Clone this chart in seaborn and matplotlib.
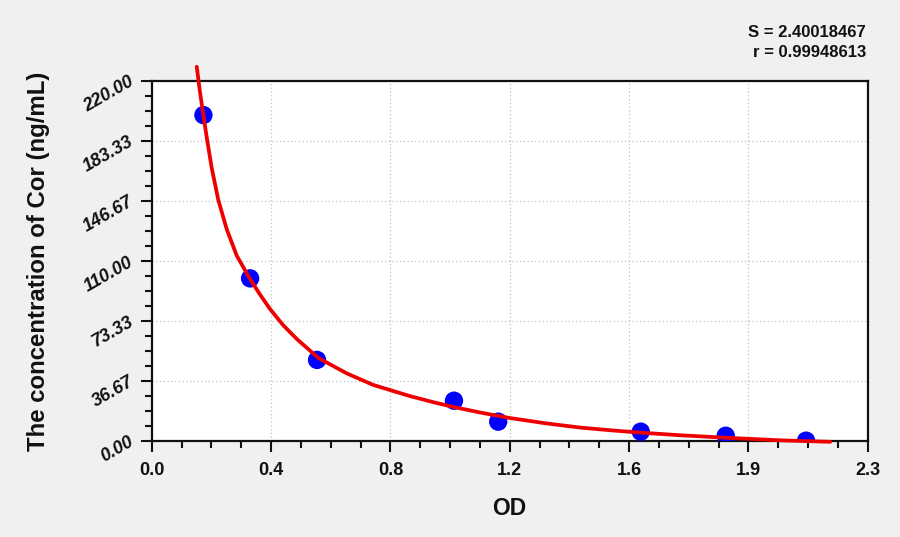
import numpy as np
import pandas as pd
import seaborn as sns
import matplotlib.pyplot as plt
from matplotlib.ticker import AutoMinorLocator

# standard points
od = [0.166, 0.316, 0.531, 0.971, 1.113, 1.571, 1.844, 2.102]
conc = [199.0, 99.3, 49.5, 24.6, 11.8, 5.7, 3.2, 0.2]

# fitted curve
curve_od = [0.1446, 0.1552, 0.1658, 0.1767, 0.1927, 0.2139, 0.2409, 0.2730, 0.3158, 0.3479,
            0.3800, 0.4218, 0.4658, 0.5352, 0.6264, 0.7119, 0.8297, 0.9046, 0.9688, 1.0546,
            1.1510, 1.2689, 1.3759, 1.4828, 1.5695, 1.6980, 1.8426, 2.0193, 2.1799]
curve_conc = [228.5, 212.8, 199.0, 185.3, 166.7, 147.1, 129.3, 113.2, 98.9, 89.4,
              80.6, 70.8, 62.3, 50.7, 41.3, 34.2, 27.4, 23.7, 20.8, 17.4,
              14.0, 10.7, 8.2, 6.4, 5.1, 3.5, 2.0, 0.4, -0.5]

x_ticklabels = ['0.0', '0.4', '0.8', '1.2', '1.6', '1.9', '2.3']
y_ticklabels = ['0.00', '36.67', '73.33', '110.00', '146.67', '183.33', '220.00']
stats_text = 'S = 2.40018467\nr = 0.99948613'

pts = pd.DataFrame({'OD': od, 'conc': conc})
fit = pd.DataFrame({'OD': curve_od, 'conc': curve_conc})

sns.set_style('white')
plt.rcParams['font.family'] = ['Liberation Sans', 'DejaVu Sans']
plt.rcParams['font.weight'] = 'bold'
plt.rcParams['text.color'] = '#111111'
plt.rcParams['axes.labelcolor'] = '#111111'
plt.rcParams['xtick.color'] = '#111111'
plt.rcParams['ytick.color'] = '#111111'

fig = plt.figure(figsize=(9, 5.37), dpi=100, facecolor='#f0f0f0')
ax = fig.add_axes([0.1686, 0.1788, 0.7955, 0.6709])
ax.set_facecolor('white')

sns.scatterplot(x='OD', y='conc', data=pts, color='#0000ff', s=175,
                edgecolor='none', zorder=3, ax=ax)
sns.lineplot(x='OD', y='conc', data=fit, color='#ee0000', linewidth=2.7,
             sort=False, zorder=4, ax=ax)
ax.lines[-1].set_clip_on(False)
ax.lines[-1].set_solid_capstyle('round')
ax.lines[-1].set_solid_joinstyle('round')

ax.set_xlim(0, 2.3)
ax.set_ylim(0, 220)
ax.set_xticks(np.linspace(0, 2.3, 7))
ax.set_xticklabels(x_ticklabels, fontsize=13, fontweight='bold')
ax.set_yticks(np.linspace(0, 220, 7))
ax.set_yticklabels(y_ticklabels, fontsize=13, fontweight='bold', style='italic',
                   rotation=30, ha='right', va='center', rotation_mode='anchor')
ax.xaxis.set_minor_locator(AutoMinorLocator(4))
ax.yaxis.set_minor_locator(AutoMinorLocator(4))
ax.tick_params(which='major', direction='out', length=8, width=1.5, color='#111111',
               bottom=True, left=True, pad=6)
ax.tick_params(which='minor', direction='out', length=5, width=1.5, color='#111111',
               bottom=True, left=True)
ax.tick_params(axis='x', pad=7)

ax.grid(True, which='major', linestyle=(0, (1, 2)), color='#c0c0c0', linewidth=0.9)
for s in ax.spines.values():
    s.set_visible(True)
    s.set_color('#111111')
    s.set_linewidth(1.6)

ax.set_xlabel('OD', fontsize=16.5, fontweight='bold', labelpad=13)
ax.set_ylabel('The concentration of Cor (ng/mL)', fontsize=17.3, fontweight='bold', labelpad=22)

fig.text(0.962, 0.921, stats_text, ha='right', va='center', fontsize=12,
         fontweight='bold', linespacing=1.45)

fig.savefig('out.png', dpi=100, facecolor=fig.get_facecolor())
